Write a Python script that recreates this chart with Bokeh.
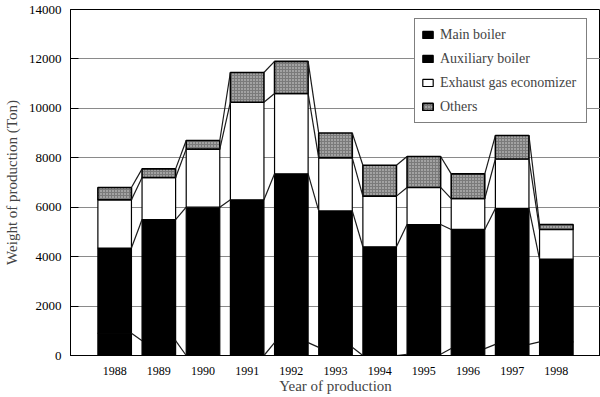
import numpy as np
from bokeh.plotting import figure
from bokeh.models import (ColumnDataSource, Range1d, FixedTicker, Legend, LegendItem)
from bokeh.embed import file_html
from bokeh.resources import INLINE

years = [1988, 1989, 1990, 1991, 1992, 1993, 1994, 1995, 1996, 1997, 1998]
main_boiler = [900, 600, 0, 0, 520, 330, 0, 50, 280, 450, 550]
aux_boiler = [3450, 4900, 6000, 6300, 6830, 5520, 4400, 5250, 4820, 5500, 3350]
exhaust_eco = [1950, 1700, 2350, 3950, 3250, 2150, 2050, 1500, 1250, 2000, 1200]
others = [500, 350, 350, 1200, 1300, 1000, 1250, 1250, 1000, 950, 200]
series_names = ["Main boiler", "Auxiliary boiler", "Exhaust gas economizer", "Others"]
y_ticks = [0, 2000, 4000, 6000, 8000, 10000, 12000, 14000]

SERIF = "Liberation Serif"
BAR_W = 0.76

stack = np.cumsum(np.array([main_boiler, aux_boiler, exhaust_eco, others], dtype=float), axis=0)
bottoms = np.vstack([np.zeros(len(years)), stack[:-1]])

p = figure(width=600, height=397, output_backend="svg", toolbar_location=None,
           x_range=Range1d(1987, 1999), y_range=Range1d(0, 14000),
           min_border_left=70, min_border_right=0, min_border_top=9, min_border_bottom=42)

p.background_fill_color = "white"
p.outline_line_color = "black"
p.outline_line_width = 1
p.xgrid.visible = False
p.ygrid.ticker = FixedTicker(ticks=y_ticks)
p.ygrid.grid_line_color = "#8a8a8a"
p.ygrid.grid_line_width = 1

fills = ["black", "black", "white", "#7a7a7a"]
renderers = []
for i, name in enumerate(series_names):
    src = ColumnDataSource(dict(x=years, bottom=bottoms[i], top=stack[i]))
    kw = {}
    if name == "Others":
        kw = dict(hatch_pattern="dot", hatch_color="#dddddd", hatch_scale=3, hatch_weight=1)
    r = p.vbar(x="x", bottom="bottom", top="top", width=BAR_W, source=src,
               fill_color=fills[i], line_color="black",
               line_width=1.6 if name == "Others" else 1.2, **kw)
    renderers.append(r)

# connector lines between adjacent bars at each cumulative level
xs, ys = [], []
for lvl in range(stack.shape[0]):
    for j in range(len(years) - 1):
        xs.append([years[j] + BAR_W / 2, years[j + 1] - BAR_W / 2])
        ys.append([stack[lvl][j], stack[lvl][j + 1]])
p.multi_line(xs, ys, line_color="#1a1a1a", line_width=1.2)

# axes
p.yaxis.ticker = FixedTicker(ticks=y_ticks)
p.yaxis.major_label_text_font = SERIF
p.yaxis.major_label_text_font_size = "13px"
p.yaxis.major_label_text_color = "black"
p.yaxis.major_tick_in = 8
p.yaxis.major_tick_out = 0
p.yaxis.minor_tick_line_color = None
p.yaxis.major_label_standoff = 9
p.yaxis.axis_label = "Weight of production (Ton)"
p.yaxis.axis_label_text_font = SERIF
p.yaxis.axis_label_text_font_size = "15px"
p.yaxis.axis_label_text_font_style = "normal"
p.yaxis.axis_label_standoff = 6
p.yaxis.axis_line_color = "black"

p.xaxis.ticker = FixedTicker(ticks=years)
p.xaxis.major_label_overrides = {y: str(y) for y in years}
p.xaxis.major_label_text_font = SERIF
p.xaxis.major_label_text_font_size = "12px"
p.xaxis.major_label_text_color = "black"
p.xaxis.major_tick_in = 0
p.xaxis.major_tick_out = 0
p.xaxis.minor_tick_line_color = None
p.xaxis.major_label_standoff = 11
p.xaxis.axis_label = "Year of production"
p.xaxis.axis_label_text_font = SERIF
p.xaxis.axis_label_text_font_size = "15px"
p.xaxis.axis_label_text_font_style = "normal"
p.xaxis.axis_label_standoff = 0
p.xaxis.axis_line_color = "black"

legend = Legend(items=[LegendItem(label=n, renderers=[r]) for n, r in zip(series_names, renderers)],
                location=(344, 232))
legend.label_text_font = SERIF
legend.label_text_font_size = "14px"
legend.glyph_width = 13
legend.glyph_height = 9
legend.label_height = 19
legend.label_width = 140
legend.label_standoff = 6
legend.spacing = 5
legend.padding = 6
legend.margin = 0
legend.border_line_color = "black"
legend.border_line_width = 1.5
legend.background_fill_alpha = 1
p.add_layout(legend)

open("out.html", "w").write(file_html(p, INLINE))
